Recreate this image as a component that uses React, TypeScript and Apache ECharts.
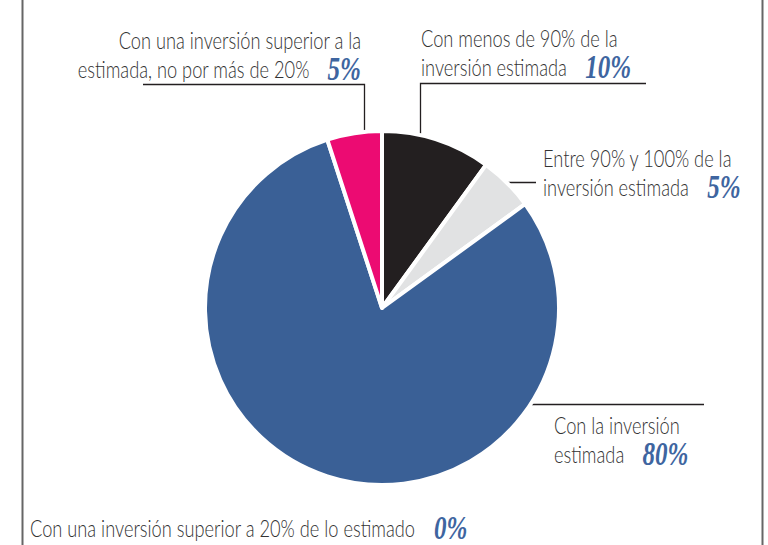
import React, { useEffect, useRef } from "react";
import * as echarts from "echarts";

// ---- data ----
const categories = [
  "Con menos de 90% de la inversión estimada",
  "Entre 90% y 100% de la inversión estimada",
  "Con la inversión estimada",
  "Con una inversión superior a 20% de lo estimado",
  "Con una inversión superior a la estimada, no por más de 20%",
];
const values = [10, 5, 80, 0, 5];
// label text split into lines (last line is followed by the percentage)
const labelLines = [
  ["Con menos de 90% de la", "inversión estimada"],
  ["Entre 90% y 100% de la", "inversión estimada"],
  ["Con la inversión", "estimada"],
  ["Con una inversión superior a 20% de lo estimado"],
  ["Con una inversión superior a la", "estimada, no por más de 20%"],
];
const colors = ["#231f20", "#e1e2e3", "#3a6096", "#9aa9c4", "#ec0b72"];

// ---- layout (positions only) ----
const labelLayout = [
  { x: 421, y: 38, align: "left" },
  { x: 543, y: 158, align: "left" },
  { x: 554, y: 425, align: "left" },
  { x: 30, y: 528, align: "left" },
  { x: 361, y: 40, align: "right" },
];
const leaderLines = [
  [[646, 83.5], [420.5, 83.5], [420.5, 135]],
  [[488, 182.5], [536, 182.5]],
  [[454, 404.5], [704, 404.5]],
  [],
  [[143, 84.5], [364.5, 84.5], [364.5, 164]],
];

const FONT = "Lato";
const FS = 24;
const LH = 29;
const SX = 0.76;

export default function App() {
  const ref = useRef<HTMLDivElement>(null);
  useEffect(() => {
    if (!ref.current) return;
    const chart = echarts.init(ref.current, null, { renderer: "svg" });
    const graphics: any[] = [
      { type: "line", shape: { x1: 22.5, y1: 0, x2: 22.5, y2: 545 }, style: { stroke: "#666", lineWidth: 2 }, silent: true },
      { type: "line", shape: { x1: 762.5, y1: 0, x2: 762.5, y2: 545 }, style: { stroke: "#666", lineWidth: 2 }, silent: true },
    ];
    categories.forEach((c, i) => {
      const lay = labelLayout[i];
      const lines = labelLines[i];
      const pts = leaderLines[i];
      if (pts.length) {
        graphics.push({
          type: "polyline",
          shape: { points: pts },
          style: { stroke: "#231f20", lineWidth: 1.3, fill: null },
          silent: true,
        });
      }
      lines.forEach((ln, k) => {
        const last = k === lines.length - 1;
        graphics.push({
          type: "text",
          x: lay.x,
          y: lay.y + k * LH,
          scaleX: SX,
          silent: true,
          style: {
            text: last ? `{t|${ln}}{p|${values[i]}%}` : `{t|${ln}}`,
            align: lay.align,
            verticalAlign: "middle",
            rich: {
              t: { fontFamily: FONT, fontSize: FS, fill: "#333333", fontWeight: 300 },
              p: {
                fontFamily: "Liberation Serif",
                fontSize: 33,
                fontStyle: "italic",
                fontWeight: "bold",
                fill: "#3e65a0",
                padding: [0, 0, 0, 24],
              },
            },
          },
        });
      });
    });

    chart.setOption({
      animation: false,
      backgroundColor: "#ffffff",
      series: [
        {
          type: "pie",
          center: [382, 308],
          radius: 177,
          startAngle: 90,
          clockwise: true,
          silent: true,
          label: { show: false },
          labelLine: { show: false },
          itemStyle: { borderColor: "#ffffff", borderWidth: 4 },
          data: categories.map((c, i) => ({
            name: c,
            value: values[i],
            itemStyle: { color: colors[i], borderWidth: values[i] === 0 ? 0 : 4 },
          })),
        },
      ],
      graphic: graphics,
    });
    return () => chart.dispose();
  }, []);
  return (
    <div
      ref={ref}
      style={{ position: "fixed", left: 0, top: 0, width: 768, height: 545 }}
    />
  );
}
